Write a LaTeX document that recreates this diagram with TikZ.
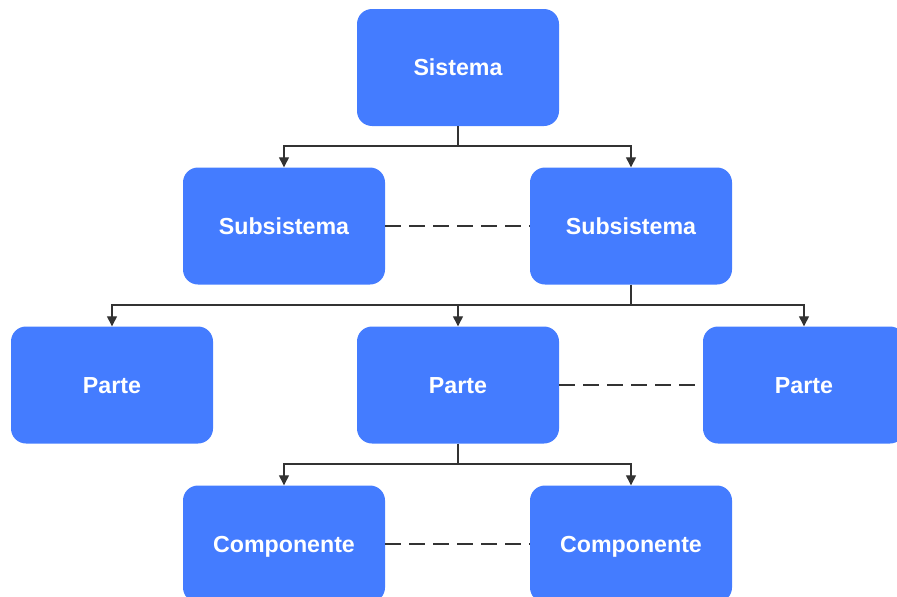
\documentclass[tikz,border=0pt]{standalone}
\usepackage{fontspec}
\setmainfont{Liberation Sans}
\usetikzlibrary{arrows.meta}
\definecolor{boxblue}{HTML}{447CFF}
\definecolor{linegray}{HTML}{333333}
\tikzset{
  block/.style={fill=boxblue, draw=none, rounded corners=15pt,
    minimum width=202pt, minimum height=117pt, inner sep=0pt,
    text height=16.5pt, text depth=0pt,
    text=white, font=\fontsize{23.2}{27}\selectfont\bfseries},
  link/.style={draw=linegray, line width=1.3pt,
    -{Triangle[width=10pt,length=10pt]}},
  peer/.style={draw=linegray, line width=1.3pt,
    dash pattern=on 16pt off 8pt}
}
\begin{document}
\begin{tikzpicture}[x=1pt,y=-1pt]
\useasboundingbox (0,0) rectangle (897,597);
\clip (0,0) rectangle (897,597);

% levels of the hierarchy
\node[block] (sys) at (458,67.5) {Sistema};
\node[block] (subL) at (284,226) {Subsistema};
\node[block] (subR) at (631,226) {Subsistema};
\node[block] (parL) at (112,385) {Parte};
\node[block] (parM) at (458,385) {Parte};
\node[block] (parR) at (804,385) {Parte};
\node[block] (comL) at (284,544) {Componente};
\node[block] (comR) at (631,544) {Componente};

% branching connectors
\coordinate (j1) at (458,146);
\draw[link] (sys.south) -- (j1) -| (subL.north);
\draw[link] (j1) -| (subR.north);

\coordinate (j2) at (631,305);
\draw[line width=1.3pt, draw=linegray] (subR.south) -- (j2);
\draw[link] (j2) -| (parL.north);
\draw[link] (j2) -| (parM.north);
\draw[link] (j2) -| (parR.north);

\coordinate (j3) at (458,464);
\draw[link] (parM.south) -- (j3) -| (comL.north);
\draw[link] (j3) -| (comR.north);

% dashed sibling links
\draw[peer] (subL.east) -- (subR.west);
\draw[peer] (parM.east) -- (parR.west);
\draw[peer] (comL.east) -- (comR.west);
\end{tikzpicture}
\end{document}
